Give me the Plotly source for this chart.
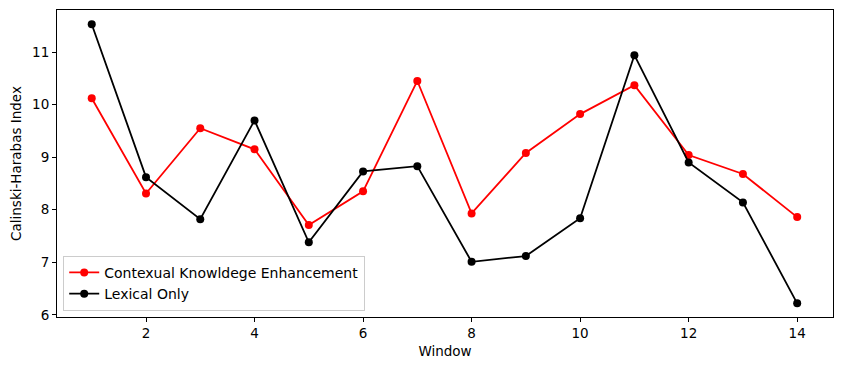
import plotly.graph_objects as go

# Data
windows = list(range(1, 15))
contextual = [10.12, 8.31, 9.55, 9.15, 7.71, 8.35, 10.45, 7.93, 9.08, 9.82, 10.37, 9.04, 8.68, 7.86]
lexical = [11.53, 8.62, 7.82, 9.70, 7.38, 8.73, 8.83, 7.01, 7.12, 7.84, 10.94, 8.90, 8.14, 6.22]

fig = go.Figure()
fig.add_trace(go.Scatter(
    x=windows, y=contextual, mode='lines+markers',
    name='Contexual Knowldege Enhancement',
    line=dict(color='red', width=1.8),
    marker=dict(color='red', size=8),
))
fig.add_trace(go.Scatter(
    x=windows, y=lexical, mode='lines+markers',
    name='Lexical Only',
    line=dict(color='black', width=1.8),
    marker=dict(color='black', size=8),
))

font_family = 'DejaVu Sans'
axis_style = dict(
    showgrid=False, zeroline=False, showline=True, mirror=True,
    linecolor='black', linewidth=1, ticks='outside', ticklen=4,
    tickcolor='black', tickfont=dict(family=font_family, size=13.5, color='black'),
    automargin=False,
)

# the page body keeps an 8px margin, so the figure is 8px smaller and margins shifted
fig.update_layout(
    width=834, height=363,
    margin=dict(l=49, r=9, t=2, b=54),
    plot_bgcolor='white', paper_bgcolor='white',
    font=dict(family=font_family, size=13.5, color='black'),
    xaxis=dict(range=[0.36, 14.66], tickvals=[2, 4, 6, 8, 10, 12, 14],
               title=dict(text='Window', standoff=6,
                          font=dict(family=font_family, size=13.5)), **axis_style),
    yaxis=dict(range=[5.96, 11.8], tickvals=[6, 7, 8, 9, 10, 11],
               title=dict(text='Calinski-Harabas Index', standoff=8,
                          font=dict(family=font_family, size=13.5)), **axis_style),
    legend=dict(x=0.008, y=0.02, xanchor='left', yanchor='bottom',
                bgcolor='rgba(255,255,255,0.8)', bordercolor='#cccccc',
                borderwidth=1, font=dict(family=font_family, size=14)),
)

fig.write_html("out.html")
